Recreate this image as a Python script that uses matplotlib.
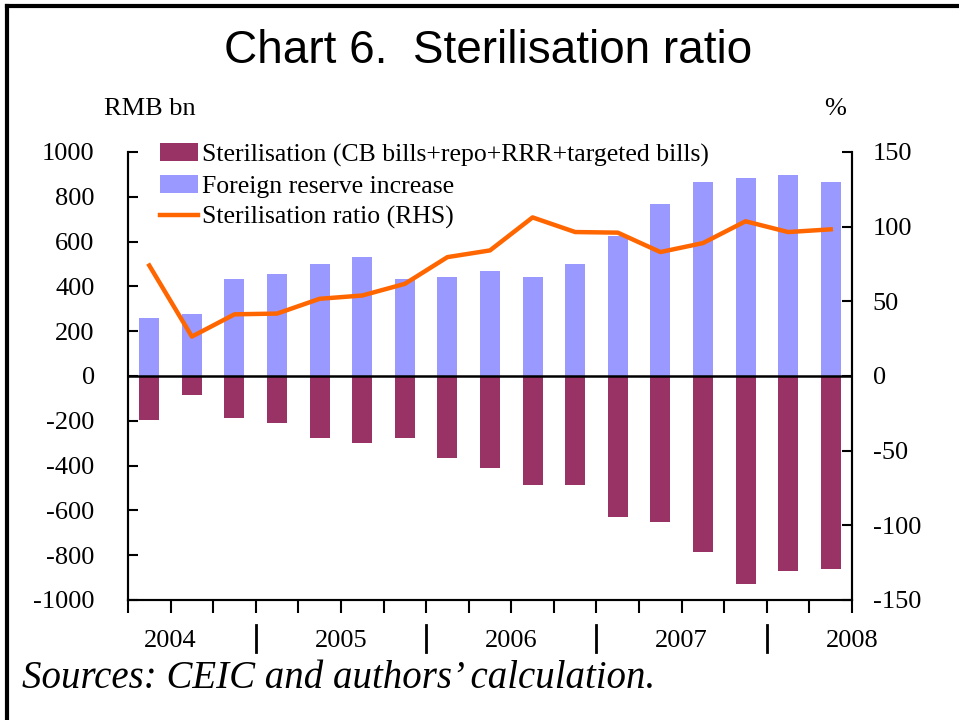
import matplotlib
matplotlib.use("Agg")
import matplotlib.pyplot as plt
import matplotlib.transforms as mtransforms
from matplotlib.lines import Line2D
import numpy as np

plt.rcParams["axes.unicode_minus"] = False

categories = ["2004Q2", "2004Q3", "2004Q4", "2005Q1", "2005Q2", "2005Q3", "2005Q4",
              "2006Q1", "2006Q2", "2006Q3", "2006Q4", "2007Q1", "2007Q2", "2007Q3",
              "2007Q4", "2008Q1", "2008Q2"]
reserve_increase = [258, 278, 435, 456, 500, 533, 435, 444, 467, 444, 500,
                    627, 766, 864, 886, 898, 864]
sterilisation = [-198, -87, -186, -208, -276, -298, -276, -364, -409, -485, -485,
                 -629, -652, -785, -927, -872, -861]
ratio = [74, 26.4, 41.3, 41.8, 51.7, 53.9, 61.7, 79.6, 84.1, 106.2, 96.4, 96,
         83, 89, 103.6, 96.4, 98.2]
year_labels = ["2004", "2005", "2006", "2007", "2008"]
left_ticks = [1000, 800, 600, 400, 200, 0, -200, -400, -600, -800, -1000]
right_ticks = [150, 100, 50, 0, -50, -100, -150]

serif = ["Liberation Serif", "DejaVu Serif"]
sans = ["Liberation Sans", "DejaVu Sans"]

fig = plt.figure(figsize=(9.59, 7.2), dpi=100)
ax = fig.add_axes([128/959, 1-600/720, (852-128)/959, (600-152)/720])
ax2 = ax.twinx()

x = np.arange(len(categories))
w = 0.47
ax.bar(x, sterilisation, width=w, color="#993366",
       label="Sterilisation (CB bills+repo+RRR+targeted bills)", zorder=2)
ax.bar(x, reserve_increase, width=w, color="#9999FF", label="Foreign reserve increase", zorder=2)
ax.axhline(0, color="black", lw=1.8, zorder=3)
ax2.plot(x, ratio, color="#FF6600", lw=3.2, label="Sterilisation ratio (RHS)", zorder=4)

ax.set_xlim(-0.5, len(categories)-0.5)
ax.set_ylim(-1000, 1000)
ax2.set_ylim(-150, 150)
ax.set_yticks(left_ticks)
ax2.set_yticks(right_ticks)
ax.set_xticks(np.arange(len(categories)+1) - 0.5)
ax.set_xticklabels([])

for a in (ax, ax2):
    a.spines["top"].set_visible(False)
    for s in a.spines.values():
        s.set_linewidth(1.5)
ax.tick_params(axis="y", direction="in", length=7, width=1.5, pad=24, labelsize=19)
ax2.tick_params(axis="y", direction="in", length=7, width=1.5, pad=15, labelsize=19)
ax.tick_params(axis="x", direction="out", length=9, width=1.5)
for lab in ax.get_yticklabels() + ax2.get_yticklabels():
    lab.set_fontfamily(serif)

trans = mtransforms.blended_transform_factory(ax.transData, ax.transAxes)
for i, yl in enumerate(year_labels):
    ax.text(0.5 + 4*i, -(647-600)/448, yl, transform=trans, ha="center", va="baseline",
            fontsize=19, family=serif)
for i in range(4):
    xs = 2.5 + 4*i
    ax.add_line(Line2D([xs, xs], [-(625-600)/448, -(652-600)/448], transform=trans,
                       color="black", lw=2, clip_on=False))

h1, l1 = ax.get_legend_handles_labels()
h2, l2 = ax2.get_legend_handles_labels()
leg = ax.legend(h1 + h2, l1 + l2, loc="upper left", bbox_to_anchor=(0.044, 1.019),
                frameon=False, prop={"family": serif, "size": 18.5},
                handlelength=1.5, handletextpad=0.15, labelspacing=0.31,
                borderaxespad=0, borderpad=0)

fig.text(488/959, 1-63/720, "Chart 6.  Sterilisation ratio", ha="center", va="baseline",
         fontsize=33, family=sans)
fig.text(104/959, 1-115/720, "RMB bn", ha="left", va="baseline", fontsize=19, family=serif)
fig.text(835/959, 1-115/720, "%", ha="center", va="baseline", fontsize=19, family=serif)
fig.text(22/959, 1-688/720, "Sources: CEIC and authors\u2019 calculation.", ha="left", va="baseline",
         fontsize=28, family=serif, style="italic")

fig.add_artist(Line2D([7/959, 7/959], [0, 1-6/720], transform=fig.transFigure, color="black", lw=3))
fig.add_artist(Line2D([7/959, 1], [1-6/720, 1-6/720], transform=fig.transFigure, color="black", lw=3))

fig.savefig("out.png", dpi=100)
